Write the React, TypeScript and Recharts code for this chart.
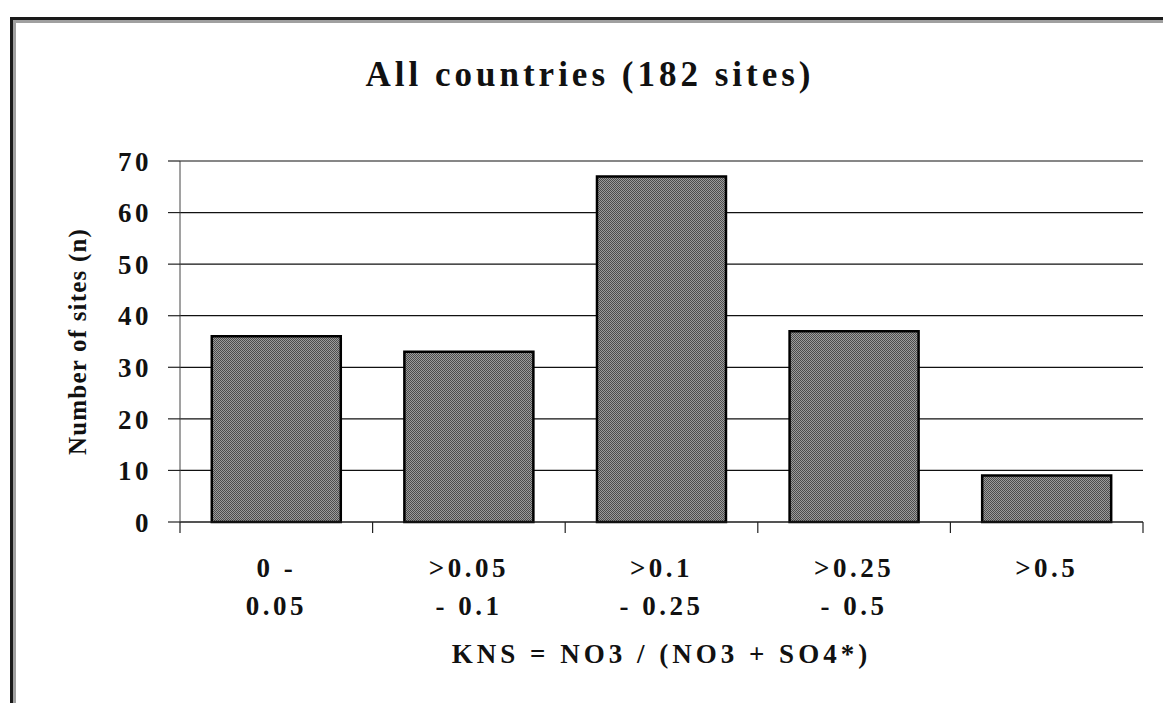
import { BarChart, Bar, XAxis, YAxis, CartesianGrid, Label } from 'recharts';

const categories = ['0 -\n0.05', '>0.05\n- 0.1', '>0.1\n- 0.25', '>0.25\n- 0.5', '>0.5'];
const siteCounts = [36, 33, 67, 37, 9];
const yTicks = [0, 10, 20, 30, 40, 50, 60, 70];

const data = categories.map((c, i) => ({ kns: c, sites: siteCounts[i] }));

const serif = '"Liberation Serif", "Times New Roman", Tinos, "DejaVu Serif", serif';

// category label plus the boundary tick marks (Excel puts them between categories)
const XTick = (props: any) => {
  const { x, y, payload, width, visibleTicksCount, index } = props;
  const lines = String(payload.value).split('\n');
  const half = width / visibleTicksCount / 2;
  return (
    <g>
      <line x1={x - half} x2={x - half} y1={y} y2={y + 11} stroke="#222" strokeWidth={1.2} />
      {index === visibleTicksCount - 1 && (
        <line x1={x + half} x2={x + half} y1={y} y2={y + 11} stroke="#222" strokeWidth={1.2} />
      )}
      <text
        x={x}
        y={y}
        textAnchor="middle"
        style={{ fontFamily: serif, fontSize: 27, fontWeight: 'bold', letterSpacing: 3.5 }}
        fill="#111"
      >
        {lines.map((l, i) => (
          <tspan key={i} x={x} dy={i === 0 ? 55 : 38}>
            {l}
          </tspan>
        ))}
      </text>
    </g>
  );
};

const YTick = (props: any) => {
  const { x, y, payload } = props;
  return (
    <text
      x={x}
      y={y}
      dy="0.36em"
      textAnchor="end"
      style={{ fontFamily: serif, fontSize: 27, fontWeight: 'bold', letterSpacing: 3.5 }}
      fill="#111"
    >
      {payload.value}
    </text>
  );
};

const YTitle = (props: any) => {
  const { viewBox } = props;
  const cx = viewBox.x + 77;
  const cy = viewBox.y + viewBox.height / 2;
  return (
    <text
      x={cx}
      y={cy}
      transform={`rotate(-90, ${cx}, ${cy})`}
      textAnchor="middle"
      dominantBaseline="central"
      style={{ fontFamily: serif, fontSize: 25, fontWeight: 'bold', letterSpacing: 1.2 }}
      fill="#111"
    >
      Number of sites (n)
    </text>
  );
};

const XTitle = (props: any) => {
  const { viewBox } = props;
  return (
    <text
      x={viewBox.x + viewBox.width / 2}
      y={viewBox.y + 141}
      textAnchor="middle"
      style={{ fontFamily: serif, fontSize: 27, fontWeight: 'bold', letterSpacing: 4 }}
      fill="#111"
    >
      KNS = NO3 / (NO3 + SO4*)
    </text>
  );
};

export default function App() {
  return (
    <div style={{ position: 'absolute', left: 0, top: 0, width: 1163, height: 703, background: '#fff', overflow: 'hidden' }}>
      <div
        style={{
          position: 'absolute',
          left: 10,
          top: 17,
          width: 1200,
          height: 720,
          borderLeft: '3px solid #1a1a1a',
          borderTop: '3px solid #1a1a1a',
        }}
      >
        <div style={{ position: 'absolute', left: 0, top: 0, right: 0, bottom: 0, borderLeft: '3px solid #a0a0a0', borderTop: '3px solid #a0a0a0' }} />
      </div>
      <div
        style={{
          position: 'absolute',
          left: 290,
          top: 57,
          width: 600,
          textAlign: 'center',
          fontFamily: serif,
          fontSize: 35,
          lineHeight: '35px',
          fontWeight: 'bold',
          letterSpacing: 4,
          color: '#111',
        }}
      >
        All countries (182 sites)
      </div>
      <div style={{ position: 'absolute', left: 0, top: 0 }}>
        <BarChart
          width={1163}
          height={703}
          data={data}
          margin={{ top: 161, right: 20, bottom: 81, left: 0 }}
          barCategoryGap="16.5%"
        >
          <defs>
            <pattern id="halftone" width="2" height="2" patternUnits="userSpaceOnUse">
              <rect x="0" y="0" width="2" height="2" fill="#9c9c9c" />
              <rect x="0" y="0" width="1" height="1" fill="#4c4c4c" />
              <rect x="1" y="1" width="1" height="1" fill="#4c4c4c" />
            </pattern>
          </defs>
          <CartesianGrid vertical={false} stroke="#111" strokeWidth={1.2} />
          <XAxis
            dataKey="kns"
            interval={0}
            height={100}
            tickSize={0}
            tickMargin={0}
            axisLine={{ stroke: '#222', strokeWidth: 1.2 }}
            tickLine={false}
            tick={<XTick />}
          >
            <Label content={<XTitle />} />
          </XAxis>
          <YAxis
            domain={[0, 70]}
            ticks={yTicks}
            width={180}
            tickSize={12}
            tickMargin={16}
            tick={<YTick />}
            axisLine={{ stroke: '#444', strokeWidth: 1 }}
            tickLine={{ stroke: '#222', strokeWidth: 1.2 }}
          >
            <Label content={<YTitle />} />
          </YAxis>
          <Bar
            dataKey="sites"
            fill="url(#halftone)"
            stroke="#000"
            strokeWidth={2.5}
            isAnimationActive={false}
          />
        </BarChart>
      </div>
    </div>
  );
}
